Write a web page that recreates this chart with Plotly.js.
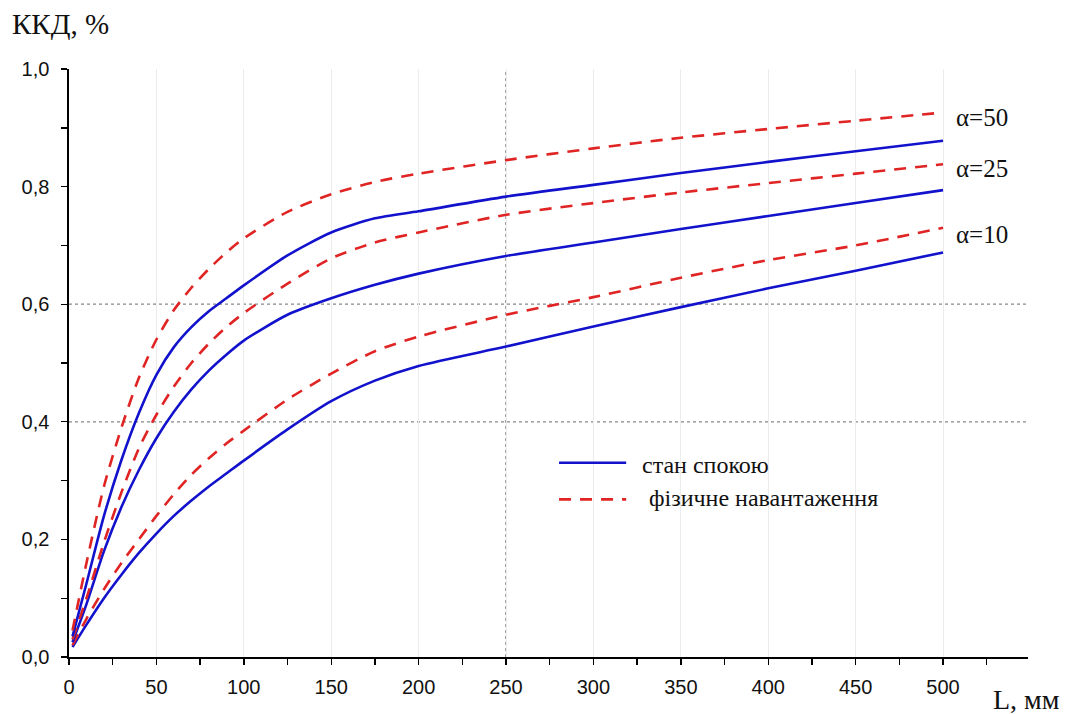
<!DOCTYPE html>
<html>
<head>
<meta charset="utf-8">
<script src="https://cdn.plot.ly/plotly-3.0.1.min.js"></script>
<style>
html,body{margin:0;padding:0;background:#fff;}
#chart{width:1065px;height:714px;}
</style>
</head>
<body>
<div id="chart"></div>
<script>
// Shared x values (L, мм)
const L = [2, 10, 20, 30, 40, 50, 60, 70, 80, 90, 100, 125, 150, 175, 200, 250, 300, 350, 400, 450, 500];

// стан спокою (rest), α = 50, 25, 10
const rest50 = [0.035, 0.125, 0.24, 0.335, 0.415, 0.48, 0.527, 0.561, 0.588, 0.61, 0.632, 0.683, 0.722, 0.746, 0.758, 0.783, 0.803, 0.823, 0.842, 0.86, 0.878];
const rest25 = [0.025, 0.09, 0.18, 0.255, 0.318, 0.372, 0.417, 0.455, 0.487, 0.514, 0.538, 0.582, 0.61, 0.633, 0.652, 0.682, 0.705, 0.728, 0.75, 0.772, 0.794];
const rest10 = [0.017, 0.055, 0.10, 0.14, 0.177, 0.21, 0.24, 0.266, 0.29, 0.312, 0.334, 0.387, 0.435, 0.47, 0.495, 0.528, 0.562, 0.595, 0.627, 0.657, 0.688];

// фізичне навантаження (load), α = 50, 25, 10
const load50 = [0.045, 0.16, 0.29, 0.39, 0.475, 0.54, 0.59, 0.628, 0.66, 0.688, 0.712, 0.757, 0.787, 0.808, 0.822, 0.845, 0.865, 0.883, 0.898, 0.912, 0.926];
const load25 = [0.03, 0.10, 0.195, 0.28, 0.355, 0.412, 0.46, 0.50, 0.533, 0.561, 0.585, 0.635, 0.678, 0.705, 0.722, 0.752, 0.772, 0.79, 0.806, 0.822, 0.838];
const load10 = [0.02, 0.065, 0.115, 0.16, 0.20, 0.24, 0.277, 0.31, 0.338, 0.363, 0.385, 0.438, 0.482, 0.52, 0.545, 0.582, 0.612, 0.645, 0.675, 0.70, 0.73];

const alphaLabels = ['α=50', 'α=25', 'α=10'];
const alphaLabelY = [0.918, 0.830, 0.718];
const legendNames = ['стан спокою', 'фізичне навантаження'];

const BLUE = '#1212cc';
const RED = '#e02424';
const SERIF = '"Liberation Serif", "Times New Roman", serif';
const SANS = '"Liberation Sans", Arial, sans-serif';

function restTrace(y, name) {
  return {x: L, y: y, type: 'scatter', mode: 'lines', name: name, showlegend: false,
    line: {color: BLUE, width: 2.6, shape: 'spline', smoothing: 0.7}};
}
function loadTrace(y, name) {
  return {x: L, y: y, type: 'scatter', mode: 'lines', name: name, showlegend: false,
    line: {color: RED, width: 2.6, shape: 'spline', smoothing: 0.7, dash: '12px,9px'}};
}

const data = [
  restTrace(rest10, legendNames[0] + ' α=10'),
  loadTrace(load10, legendNames[1] + ' α=10'),
  restTrace(rest25, legendNames[0] + ' α=25'),
  loadTrace(load25, legendNames[1] + ' α=25'),
  restTrace(rest50, legendNames[0] + ' α=50'),
  loadTrace(load50, legendNames[1] + ' α=50')
];

const annotations = alphaLabels.map((t, i) => ({
  x: 506, y: alphaLabelY[i], xref: 'x', yref: 'y', text: t, showarrow: false,
  xanchor: 'left', yanchor: 'middle', font: {family: SERIF, size: 25, color: '#111'}
}));
annotations.push(
  {x: -0.0615, y: 1.0765, xref: 'paper', yref: 'paper', text: 'ККД, %', showarrow: false,
   xanchor: 'left', yanchor: 'middle', font: {family: SERIF, size: 29, color: '#111'}},
  {x: 1.0355, y: -0.073, xref: 'paper', yref: 'paper', text: 'L, мм', showarrow: false,
   xanchor: 'right', yanchor: 'middle', font: {family: SERIF, size: 28, color: '#111'}},
  {x: 0.5954, y: 0.3265, xref: 'paper', yref: 'paper', text: legendNames[0], showarrow: false,
   xanchor: 'left', yanchor: 'middle', font: {family: SERIF, size: 24, color: '#111'}},
  {x: 0.6024, y: 0.270, xref: 'paper', yref: 'paper', text: legendNames[1], showarrow: false,
   xanchor: 'left', yanchor: 'middle', font: {family: SERIF, size: 24, color: '#111'}}
);

const shapes = [
  {type: 'line', xref: 'x', yref: 'paper', x0: 250, x1: 250, y0: 0, y1: 1,
   line: {color: '#666', width: 1.2, dash: 'dot'}, layer: 'below'},
  {type: 'line', xref: 'paper', yref: 'y', x0: 0, x1: 1, y0: 0.6, y1: 0.6,
   line: {color: '#888', width: 1.2, dash: 'dot'}, layer: 'below'},
  {type: 'line', xref: 'paper', yref: 'y', x0: 0, x1: 1, y0: 0.4, y1: 0.4,
   line: {color: '#888', width: 1.2, dash: 'dot'}, layer: 'below'},
  // legend samples
  {type: 'line', xref: 'paper', yref: 'paper', x0: 0.511, x1: 0.581, y0: 0.3304, y1: 0.3304,
   line: {color: BLUE, width: 2.6}},
  {type: 'line', xref: 'paper', yref: 'paper', x0: 0.511, x1: 0.581, y0: 0.268, y1: 0.268,
   line: {color: RED, width: 2.6, dash: '12px,9px'}}
];

const layout = {
  width: 1065, height: 714,
  margin: {l: 69, r: 37, t: 69, b: 57, pad: 0},
  paper_bgcolor: '#fff', plot_bgcolor: '#fff',
  separators: ', ',
  showlegend: false,
  xaxis: {
    range: [0, 548.6], dtick: 50, tick0: 0,
    showgrid: true, gridcolor: '#ececec', gridwidth: 1,
    zeroline: false, showline: true, linecolor: '#000', linewidth: 1.6,
    ticks: 'outside', ticklen: 6, tickwidth: 1.4, tickcolor: '#000',
    minor: {dtick: 25, ticks: 'outside', ticklen: 6, tickwidth: 1.4, tickcolor: '#000', showgrid: false},
    tickfont: {family: SANS, size: 20, color: '#111'},
    ticklabelstandoff: 5
  },
  yaxis: {
    range: [0, 1], dtick: 0.2, tick0: 0, tickformat: '.1f',
    showgrid: false, zeroline: false, showline: true, linecolor: '#000', linewidth: 1.6,
    ticks: 'outside', ticklen: 6, tickwidth: 1.4, tickcolor: '#000',
    minor: {dtick: 0.1, ticks: 'outside', ticklen: 6, tickwidth: 1.4, tickcolor: '#000', showgrid: false},
    tickfont: {family: SANS, size: 20, color: '#111'},
    ticklabelstandoff: 8
  },
  annotations: annotations,
  shapes: shapes
};

Plotly.newPlot('chart', data, layout, {displayModeBar: false, staticPlot: true});
</script>
</body>
</html>
